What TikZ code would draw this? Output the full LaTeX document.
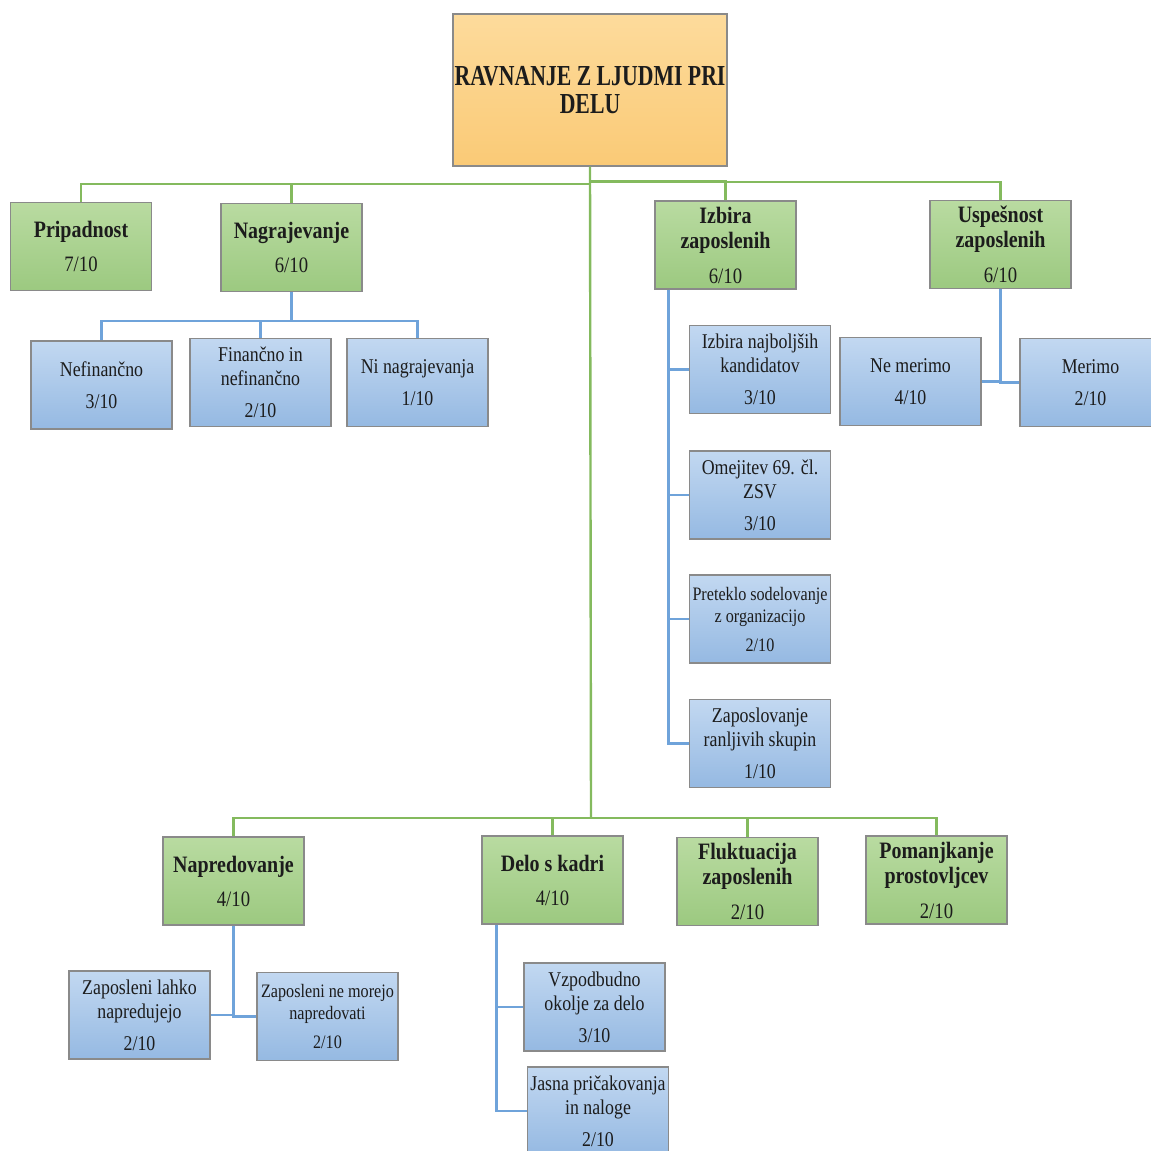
\documentclass[tikz,border=0pt]{standalone}
\usepackage{fontspec}
\setmainfont{Liberation Serif}[FakeStretch=0.85]
\newfontfamily\rootfont{Liberation Serif}[FakeStretch=0.75]
\usetikzlibrary{positioning}

\definecolor{gtop}{HTML}{B9DBA1}
\definecolor{gbot}{HTML}{9CC980}
\definecolor{btop}{HTML}{C2D8F1}
\definecolor{bbot}{HTML}{95B9E2}
\definecolor{otop}{HTML}{FDDB9C}
\definecolor{obot}{HTML}{FACA76}
\definecolor{edge}{HTML}{8A8A8A}
\definecolor{gline}{HTML}{84BA5E}
\definecolor{bline}{HTML}{6FA3DA}
\definecolor{ink}{HTML}{1C1C1C}

% title line of a category box
\newcommand{\cattitle}[1]{{\fontsize{23.5}{25}\selectfont\bfseries #1}}

\tikzset{
  box/.style={draw=edge, line width=1.3pt, inner sep=0pt, align=center,
    text=ink, minimum width=141pt, minimum height=88pt},
  rootbox/.style={box, top color=otop, bottom color=obot,
    minimum width=274pt, minimum height=152pt,
    font=\rootfont\fontsize{29}{28}\selectfont\bfseries},
  greenbox/.style={box, top color=gtop, bottom color=gbot,
    font=\fontsize{22}{25}\selectfont},
  bluebox/.style={box, top color=btop, bottom color=bbot,
    font=\fontsize{21}{24}\selectfont},
  smallblue/.style={bluebox, font=\fontsize{19}{22}\selectfont},
  gconn/.style={draw=gline, line width=2.4pt},
  bconn/.style={draw=bline, line width=2.4pt},
}

\begin{document}
\begin{tikzpicture}[x=1pt, y=-1pt]
\useasboundingbox (0,0) rectangle (1151,1151);
\clip (0,0) rectangle (1151,1151);

% top level
\node[rootbox] (root) at (590,90) {RAVNANJE Z LJUDMI PRI\\DELU};

% first row of categories
\node[greenbox] (prip) at (81,246.5) {\cattitle{Pripadnost}\\[9pt]7/10};
\node[greenbox] (nagr) at (291.5,247.5) {\cattitle{Nagrajevanje}\\[9pt]6/10};
\node[greenbox] (izb) at (725.5,245) {\cattitle{Izbira}\\\cattitle{zaposlenih}\\[10pt]6/10};
\node[greenbox] (usp) at (1000.5,244.5) {\cattitle{Uspešnost}\\\cattitle{zaposlenih}\\[10pt]6/10};

% rewards
\node[bluebox] (nefin) at (101.5,385) {Nefinančno\\[8pt]3/10};
\node[bluebox] (fin) at (260.5,382.5) {Finančno in\\nefinančno\\[8pt]2/10};
\node[bluebox] (ninag) at (417.5,382.5) {Ni nagrajevanja\\[8pt]1/10};

% selection
\node[bluebox] (k1) at (760,369.5) {Izbira najboljših\\kandidatov\\[8pt]3/10};
\node[bluebox] (k2) at (760,495) {Omejitev 69. čl.\\ZSV\\[8pt]3/10};
\node[smallblue] (k3) at (760,619) {Preteklo sodelovanje\\z organizacijo\\[7pt]2/10};
\node[bluebox] (k4) at (760,743.5) {Zaposlovanje\\ranljivih skupin\\[8pt]1/10};

% performance
\node[bluebox] (nem) at (910.5,381.5) {Ne merimo\\[8pt]4/10};
\node[bluebox] (mer) at (1090.5,382.5) {Merimo\\[8pt]2/10};

% second row of categories
\node[greenbox] (napr) at (233.5,881) {\cattitle{Napredovanje}\\[9pt]4/10};
\node[greenbox] (delo) at (552.5,880) {\cattitle{Delo s kadri}\\[9pt]4/10};
\node[greenbox] (fluk) at (747.5,881.5) {\cattitle{Fluktuacija}\\\cattitle{zaposlenih}\\[10pt]2/10};
\node[greenbox] (pom) at (936.5,880) {\cattitle{Pomanjkanje}\\\cattitle{prostovljcev}\\[10pt]2/10};

% promotion
\node[bluebox] (zl) at (139.5,1015) {Zaposleni lahko\\napredujejo\\[8pt]2/10};
\node[smallblue] (zn) at (327.5,1016.5) {Zaposleni ne morejo\\napredovati\\[7pt]2/10};

% staff work
\node[bluebox] (vz) at (594.5,1007) {Vzpodbudno\\okolje za delo\\[8pt]3/10};
\node[bluebox] (ja) at (598,1111) {Jasna pričakovanja\\in naloge\\[8pt]2/10};

% green tree
\coordinate (trunk) at (591,818);
\draw[gconn] (prip.north) -- ++(0,-18) -| (root.south);
\draw[gconn] (nagr.north) -- ++(0,-19) -| (root.south);
\draw[gconn] (izb.north) -- ++(0,-19) -| (root.south);
\draw[gconn] (usp.north) -- ++(0,-18) -| (root.south);
\draw[gconn] (root.south) -- (trunk);
\draw[gconn] (napr.north) |- (trunk);
\draw[gconn] (delo.north) |- (trunk);
\draw[gconn] (fluk.north) |- (trunk);
\draw[gconn] (pom.north) |- (trunk);

% blue branches
\draw[bconn] (nagr.south) -- ++(0,29) -| (nefin.north);
\draw[bconn] (nagr.south) -- ++(0,29) -| (fin.north);
\draw[bconn] (nagr.south) -- ++(0,29) -| (ninag.north);

\draw[bconn] ([xshift=14pt]izb.south west) |- (k1.west);
\draw[bconn] ([xshift=14pt]izb.south west) |- (k2.west);
\draw[bconn] ([xshift=14pt]izb.south west) |- (k3.west);
\draw[bconn] ([xshift=14pt]izb.south west) |- (k4.west);

\draw[bconn] (usp.south) |- (nem.east);
\draw[bconn] (usp.south) |- (mer.west);

\draw[bconn] (napr.south) |- (zl.east);
\draw[bconn] (napr.south) |- (zn.west);

\draw[bconn] ([xshift=15pt]delo.south west) |- (vz.west);
\draw[bconn] ([xshift=15pt]delo.south west) |- (ja.west);
\end{tikzpicture}
\end{document}
